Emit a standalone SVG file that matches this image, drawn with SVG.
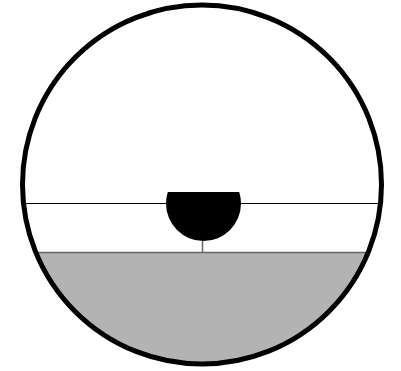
<svg xmlns="http://www.w3.org/2000/svg" width="401" height="371" viewBox="0 0 401 371">
<defs>
<clipPath id="inner"><circle cx="202" cy="184.5" r="179.5"/></clipPath>
<clipPath id="topcut"><rect x="0" y="192" width="401" height="179"/></clipPath>
</defs>
<rect width="401" height="371" fill="#fff"/>
<g id="ground" clip-path="url(#inner)">
<rect x="0" y="252.5" width="401" height="130" fill="#b3b3b3"/>
<line x1="0" y1="252.5" x2="401" y2="252.5" stroke="#666" stroke-width="1.5"/>
<line x1="0" y1="203.5" x2="401" y2="203.5" stroke="#000" stroke-width="1"/>
</g>
<g id="stem">
<line x1="202.5" y1="240" x2="202.5" y2="252" stroke="#666" stroke-width="1.5"/>
</g>
<g id="bowl">
<circle cx="203.5" cy="203.5" r="37.5" fill="#000" clip-path="url(#topcut)"/>
</g>
<g id="outer">
<circle cx="202" cy="184.5" r="179.5" fill="none" stroke="#000" stroke-width="5"/>
</g>
</svg>
